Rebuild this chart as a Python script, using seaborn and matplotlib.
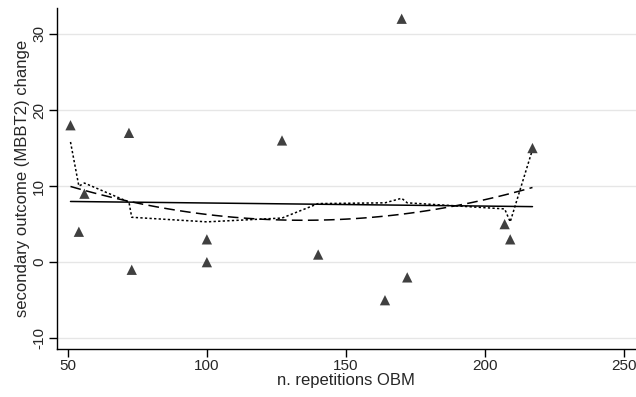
import matplotlib
matplotlib.use("Agg")
import matplotlib.pyplot as plt
import seaborn as sns
import pandas as pd
import numpy as np

# data
repetitions = [51, 54, 56, 72, 73, 100, 100, 127, 140, 164, 170, 172, 207, 209, 217]
outcome_change = [18, 4, 9, 17, -1, 3, 0, 16, 1, -5, 32, -2, 5, 3, 15]

# local smoother (dotted) read at each x
smooth_x = [51, 54, 56, 72, 73, 100, 127, 140, 164, 170, 172, 207, 209, 217]
smooth_y = [15.8, 10.0, 10.4, 7.9, 5.9, 5.3, 5.8, 7.7, 7.8, 8.4, 7.8, 7.0, 5.3, 14.8]

x_ticks = [50, 100, 150, 200, 250]
y_ticks = [-10, 0, 10, 20, 30]

sns.set_style("white")
plt.rcParams["font.family"] = ["Liberation Sans", "DejaVu Sans"]

df = pd.DataFrame({"x": repetitions, "y": outcome_change})
sm = pd.DataFrame({"x": smooth_x, "y": smooth_y})

fig = plt.figure(figsize=(6.36, 3.97), dpi=100)
ax = fig.add_axes([0.0892, 0.121, 0.9108, 0.859])

for t in y_ticks:
    ax.axhline(t, color="#e6e6e6", lw=1.0, zorder=0)

sns.scatterplot(data=df, x="x", y="y", marker="^", s=55, color="#404040",
                edgecolor="none", ax=ax, zorder=3)
sns.regplot(data=df, x="x", y="y", order=1, ci=None, scatter=False, ax=ax,
            line_kws=dict(color="black", lw=1.1, ls="-"))
sns.regplot(data=df, x="x", y="y", order=2, ci=None, scatter=False, ax=ax,
            line_kws=dict(color="black", lw=1.1, ls=(0, (7, 3.5))))
sns.lineplot(data=sm, x="x", y="y", ax=ax, color="black", lw=1.1,
             ls=(0, (1.5, 1.5)), estimator=None, sort=True)

ax.set_xlim(46.05, 254.2)
ax.set_ylim(-11.41, 33.42)
ax.set_xticks(x_ticks)
ax.set_yticks(y_ticks)
ax.set_xticklabels([str(v) for v in x_ticks], fontsize=11)
ax.set_yticklabels([str(v) for v in y_ticks], fontsize=11, rotation=90, va="center")
ax.set_xlabel("n. repetitions OBM", fontsize=12, labelpad=0)
ax.set_ylabel("secondary outcome (MBBT2) change", fontsize=12, labelpad=2)

for s in ["top", "right"]:
    ax.spines[s].set_visible(False)
for s in ["left", "bottom"]:
    ax.spines[s].set_color("black")
    ax.spines[s].set_linewidth(1.0)
ax.tick_params(axis="both", which="major", direction="out", length=5.5,
               width=1.0, color="black", pad=2, bottom=True, left=True)

fig.savefig("out.png", dpi=100, facecolor="white")
